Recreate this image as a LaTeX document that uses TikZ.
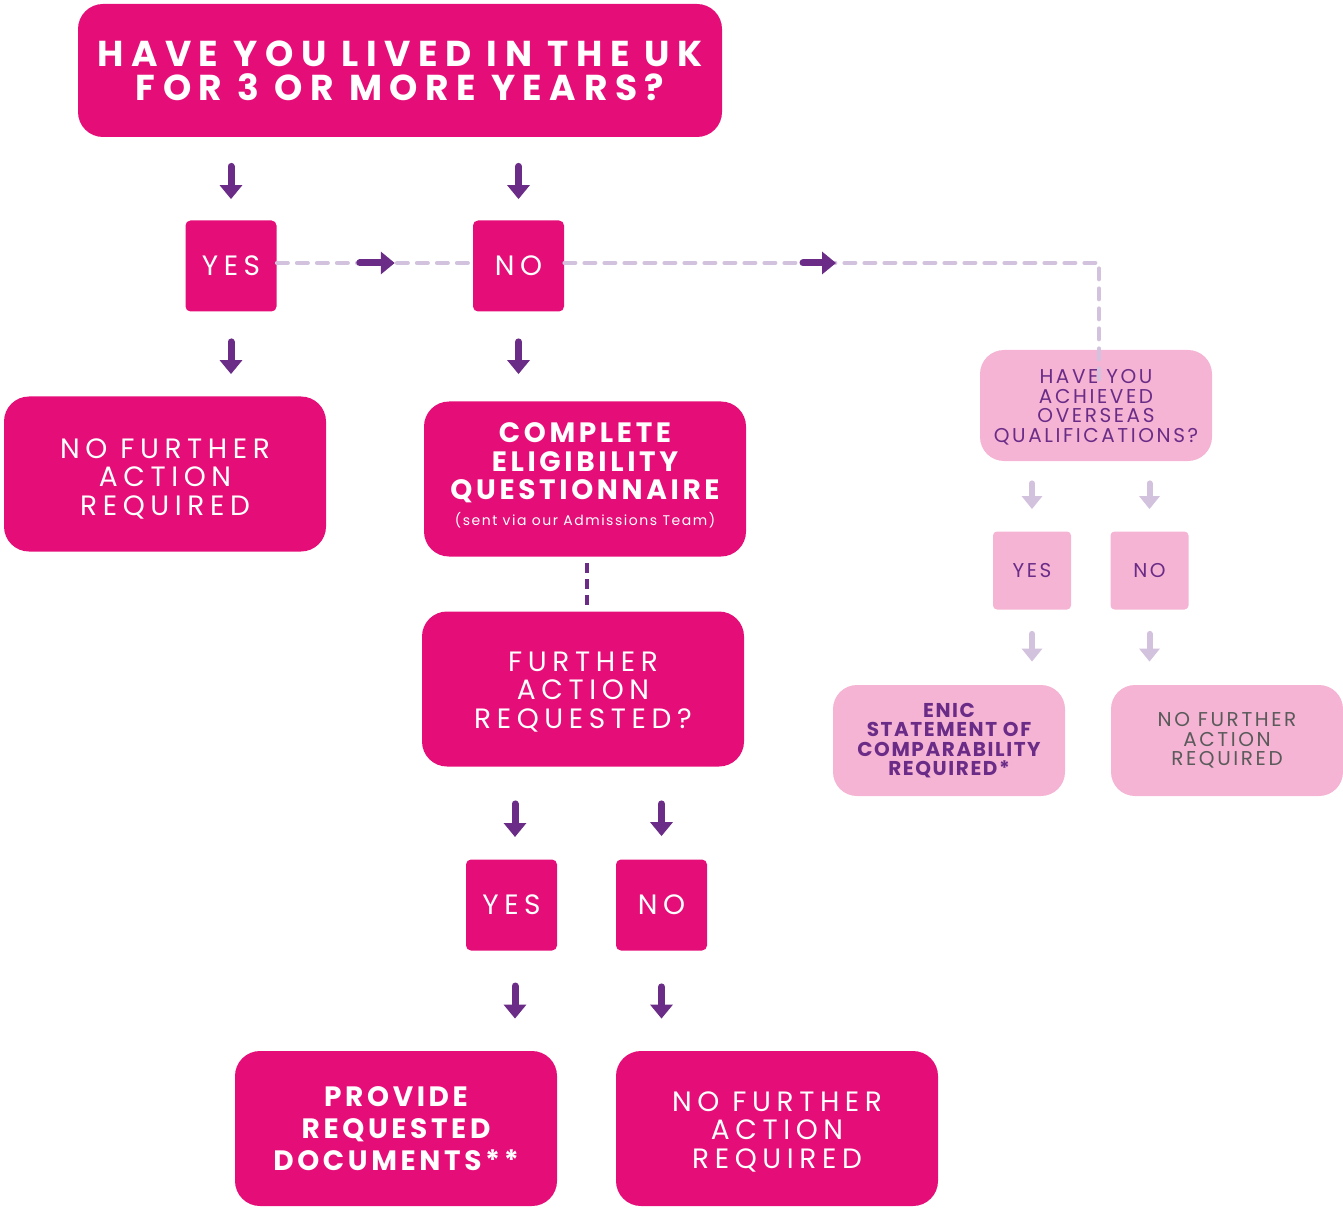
\documentclass[tikz,border=0pt]{standalone}
\usepackage{fontspec}
\setmainfont{Poppins}
\newfontfamily\wideheavy{Poppins}[LetterSpace=13]
\newfontfamily\titleheavy{Poppins}[LetterSpace=21]
\newfontfamily\softheavy{Poppins}[LetterSpace=8]
\newfontfamily\widelight{Poppins}[LetterSpace=20]
\newfontfamily\softlight{Poppins}[LetterSpace=13]
\newfontfamily\notelight{Poppins}[LetterSpace=11]
\usetikzlibrary{arrows.meta,calc}
\definecolor{hotpink}{HTML}{E50E78}
\definecolor{softpink}{HTML}{F5B4D4}
\definecolor{grape}{HTML}{6A2C87}
\definecolor{lilac}{HTML}{D3C2DE}
\definecolor{slate}{HTML}{5A5A5A}
\tikzstyle{bigbox}=[fill=hotpink, text=white, rounded corners=12.5pt, align=center, inner sep=0pt, minimum width=161pt, minimum height=77.5pt]
\tikzstyle{answer}=[fill=hotpink, text=white, rounded corners=2.5pt, minimum size=45.5pt, inner sep=0pt]
\tikzstyle{softbox}=[fill=softpink, rounded corners=12pt, align=center, inner sep=0pt, minimum width=116pt, minimum height=55.5pt]
\tikzstyle{softanswer}=[fill=softpink, text=grape, rounded corners=2pt, minimum size=39pt, inner sep=0pt]
\tikzstyle{fatarrow}=[draw=grape, line width=3.5pt, line cap=round, -{Triangle[width=11pt,length=7pt]}]
\tikzstyle{thinarrow}=[draw=lilac, line width=3pt, line cap=round, -{Triangle[width=10pt,length=6.5pt]}]
\tikzstyle{dashline}=[draw=lilac, line width=2pt, line cap=round, dash pattern=on 5.5pt off 4.5pt]
\tikzstyle{bigtext}=[font=\widelight\fontsize{14}{14.3}\selectfont]
\tikzstyle{boldtext}=[font=\wideheavy\bfseries\fontsize{14}{14.3}\selectfont]
\tikzstyle{softtext}=[font=\softlight\fontsize{10}{9.75}\selectfont]
\newcommand{\topstrut}[1]{\rule{0pt}{#1}} % pushes the lines of a box down a little
\newcommand{\bottomstrut}[1]{\rule[-#1]{0pt}{#1}} % and this one pulls them up
% arrow between two stacked nodes: [style] {upper} {lower} {gap above} {gap below}
\newcommand{\droparrow}[5][fatarrow]{
\draw[#1, shorten <=#4, shorten >=#5] (#2.south -| #3.north) -- (#3.north);
}
% same, but keeping the x of the upper node
\newcommand{\droparrowfrom}[5][fatarrow]{
\draw[#1, shorten <=#4, shorten >=#5] (#2.south) -- (#2.south |- #3.north);
}
\begin{document}
\begin{tikzpicture}[x=0.5pt, y=-0.5pt]
\useasboundingbox (0,0) rectangle (1343,1208);
% question
\node[bigbox, minimum width=322pt, minimum height=66.5pt,
  font=\titleheavy\bfseries\fontsize{18}{17}\selectfont] (top) at (400,70.5)
  {HAVE YOU LIVED IN THE UK\\FOR 3 OR MORE YEARS?};
\node[answer, bigtext] (yes1) at (231,266) {YES};
\node[answer, bigtext] (no1) at (518.5,266) {NO};
\droparrow{top}{yes1}{14.5pt}{10.5pt}
\droparrow{top}{no1}{14.5pt}{10.5pt}
% left branch
\node[bigbox, bigtext] (stop1) at (165,474) {\topstrut{14.8pt}NO FURTHER\\ACTION\\REQUIRED};
\droparrowfrom{yes1}{stop1}{15pt}{11pt}
% middle branch
\node[bigbox, boldtext] (eligible) at (585,479)
  {COMPLETE\\ELIGIBILITY\\QUESTIONNAIRE\\[-1.5pt]
   {\notelight\mdseries\fontsize{7}{8}\selectfont (sent via our Admissions Team)\bottomstrut{4.8pt}}};
\droparrowfrom{no1}{eligible}{15pt}{13.5pt}
\node[bigbox, bigtext] (further) at (583,689) {\topstrut{12.8pt}FURTHER\\ACTION\\REQUESTED?};
\draw[draw=grape, line width=2pt, dash pattern=on 5pt off 3pt] ($(eligible.south)+(2,6)$) -- ($(further.north)+(4,-2)$);
\node[answer, bigtext] (yes2) at (511.5,905) {YES};
\node[answer, bigtext] (no2) at (661.5,905) {NO};
\draw[fatarrow, shorten <=18.5pt, shorten >=11.5pt] (further.south -| 515,0) -- (515,860);
\droparrow{further}{no2}{18.5pt}{11.5pt}
\node[bigbox, boldtext, font=\wideheavy\bfseries\fontsize{14}{16}\selectfont] (provide) at (396,1128.5) {PROVIDE\\REQUESTED\\DOCUMENTS**};
\node[bigbox, bigtext] (stop2) at (777,1128.5) {\topstrut{13.3pt}NO FURTHER\\ACTION\\REQUIRED};
\draw[fatarrow, shorten <=18pt, shorten >=16pt] (515,950) -- (provide.north -| 515,0);
\droparrowfrom{no2}{stop2}{18pt}{16pt}
% dashed links
\draw[dashline] (yes1.east |- 0,263) -- (no1.west |- 0,263);
\draw[fatarrow] ($(yes1.east)!0.5!(no1.west)+(-15,-3)$) -- +(35,0);
\node[softbox, softtext, text=grape] (quals) at (1096,405.5)
  {\topstrut{9pt}HAVE YOU\\ACHIEVED\\OVERSEAS\\QUALIFICATIONS?};
\coordinate (bend) at (1099,263);
\draw[dashline] (no1.east |- bend) -- (bend) -- ($(bend |- quals.north)+(0,35)$);
\draw[fatarrow] (803,263) -- (836,263);
% right branch
\node[softanswer, softtext] (yes3) at (1032,570.5) {YES};
\node[softanswer, softtext] (no3) at (1149.5,570.5) {NO};
\droparrow[thinarrow]{quals}{yes3}{11pt}{11pt}
\droparrow[thinarrow]{quals}{no3}{11pt}{11pt}
\node[softbox, text=grape, font=\softheavy\bfseries\fontsize{10}{9.75}\selectfont] (enic) at (949,740.5)
  {ENIC\\STATEMENT OF\\COMPARABILITY\\REQUIRED*};
\node[softbox, softtext, text=slate] (stop3) at (1227,740.5) {NO FURTHER\\ACTION\\REQUIRED};
\droparrowfrom[thinarrow]{yes3}{enic}{12pt}{11.5pt}
\droparrowfrom[thinarrow]{no3}{stop3}{12pt}{11.5pt}
\end{tikzpicture}
\end{document}
